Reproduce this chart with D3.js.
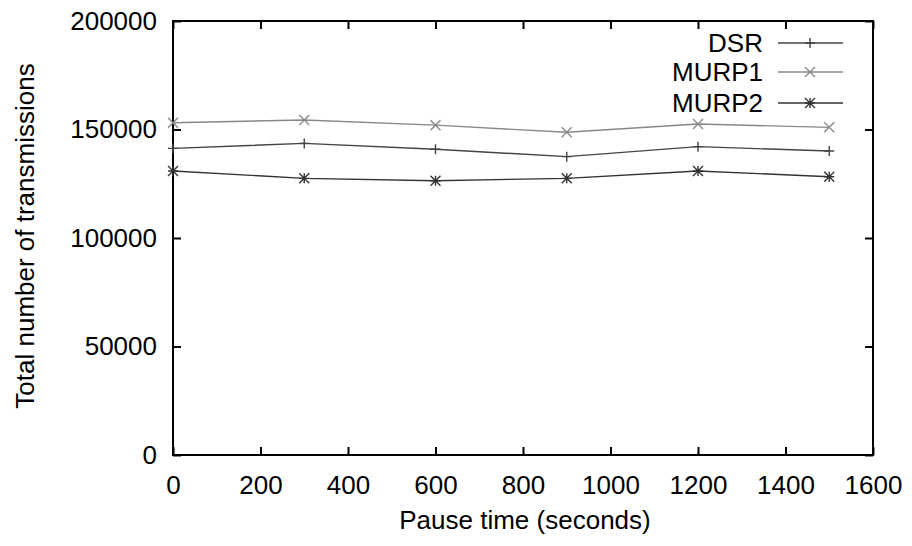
<!DOCTYPE html>
<html>
<head>
<meta charset="utf-8">
<script src="https://cdn.jsdelivr.net/npm/d3@7"></script>
<style>
  html, body { margin: 0; padding: 0; background: #fff; }
  text { font-family: "Liberation Sans", Arial, Helvetica, sans-serif; }
</style>
</head>
<body>
<svg id="chart" width="912" height="546"></svg>
<script>
const pauseTimes = [0, 300, 600, 900, 1200, 1500];
const dsr   = [141300, 143600, 140900, 137500, 142100, 140100];
const murp1 = [153100, 154400, 152000, 148700, 152500, 151000];
const murp2 = [130900, 127500, 126400, 127500, 130900, 128200];
const seriesNames = ["DSR", "MURP1", "MURP2"];
const xTicks = [0, 200, 400, 600, 800, 1000, 1200, 1400, 1600];
const yTicks = [0, 50000, 100000, 150000, 200000];
const xLabel = "Pause time (seconds)";
const yLabel = "Total number of transmissions";

const series = [
  { name: seriesNames[0], values: dsr,   color: "#444", marker: "plus" },
  { name: seriesNames[1], values: murp1, color: "#888", marker: "cross" },
  { name: seriesNames[2], values: murp2, color: "#333", marker: "star" }
];

const svg = d3.select("#chart");
const L = 173, R = 873, T = 21, B = 455;
const x = d3.scaleLinear().domain([0, 1600]).range([L, R]);
const y = d3.scaleLinear().domain([0, 200000]).range([B, T]);
const fs = 26, tk = 8;

// frame
svg.append("rect").attr("x", L).attr("y", T).attr("width", R - L).attr("height", B - T)
  .attr("fill", "none").attr("stroke", "#000").attr("stroke-width", 2);

function styleAxis(g, hideLabels) {
  g.select(".domain").remove();
  g.selectAll(".tick line").attr("stroke", "#000").attr("stroke-width", 2);
  g.selectAll(".tick text").attr("font-size", fs).attr("fill", "#000")
    .style("font-family", '"Liberation Sans", Arial, sans-serif');
  if (hideLabels) g.selectAll(".tick text").remove();
}

svg.append("g").attr("transform", `translate(0,${B})`)
  .call(d3.axisBottom(x).tickValues(xTicks).tickSize(-tk).tickPadding(21).tickFormat(d3.format("d")))
  .call(g => styleAxis(g, false));
svg.append("g").attr("transform", `translate(0,${T})`)
  .call(d3.axisTop(x).tickValues(xTicks).tickSize(-tk))
  .call(g => styleAxis(g, true));
svg.append("g").attr("transform", `translate(${L},0)`)
  .call(d3.axisLeft(y).tickValues(yTicks).tickSize(-tk).tickPadding(16).tickFormat(d3.format("d")))
  .call(g => styleAxis(g, false));
svg.append("g").attr("transform", `translate(${R},0)`)
  .call(d3.axisRight(y).tickValues(yTicks).tickSize(-tk))
  .call(g => styleAxis(g, true));

// axis titles
svg.append("text").attr("x", (L + R) / 2 + 2).attr("y", 529)
  .attr("text-anchor", "middle").attr("font-size", fs).text(xLabel);
svg.append("text").attr("transform", `translate(34,${(T + B) / 2 - 2}) rotate(-90)`)
  .attr("text-anchor", "middle").attr("font-size", fs).text(yLabel);

function drawMarker(g, type, cx, cy, color) {
  const s = 5;
  let d;
  if (type === "plus") d = `M${cx - s},${cy}H${cx + s}M${cx},${cy - s}V${cy + s}`;
  else if (type === "cross") d = `M${cx - s},${cy - s}L${cx + s},${cy + s}M${cx - s},${cy + s}L${cx + s},${cy - s}`;
  else d = `M${cx - s},${cy}H${cx + s}M${cx},${cy - s}V${cy + s}M${cx - s},${cy - s}L${cx + s},${cy + s}M${cx - s},${cy + s}L${cx + s},${cy - s}`;
  g.append("path").attr("d", d).attr("stroke", color).attr("stroke-width", 1.4).attr("fill", "none");
}

const line = d3.line().x((d, i) => x(pauseTimes[i])).y(d => y(d));
series.forEach(s => {
  const g = svg.append("g");
  g.append("path").datum(s.values).attr("d", line)
    .attr("fill", "none").attr("stroke", s.color).attr("stroke-width", 1.4);
  s.values.forEach((v, i) => drawMarker(g, s.marker, x(pauseTimes[i]), y(v), s.color));
});

// legend
const legY = [43, 72, 103];
series.forEach((s, i) => {
  const g = svg.append("g");
  g.append("text").attr("x", 763).attr("y", legY[i]).attr("dy", "0.35em")
    .attr("text-anchor", "end").attr("font-size", fs).text(s.name);
  g.append("line").attr("x1", 778).attr("x2", 843).attr("y1", legY[i]).attr("y2", legY[i])
    .attr("stroke", s.color).attr("stroke-width", 1.4);
  drawMarker(g, s.marker, 810, legY[i], s.color);
});
</script>
</body>
</html>
